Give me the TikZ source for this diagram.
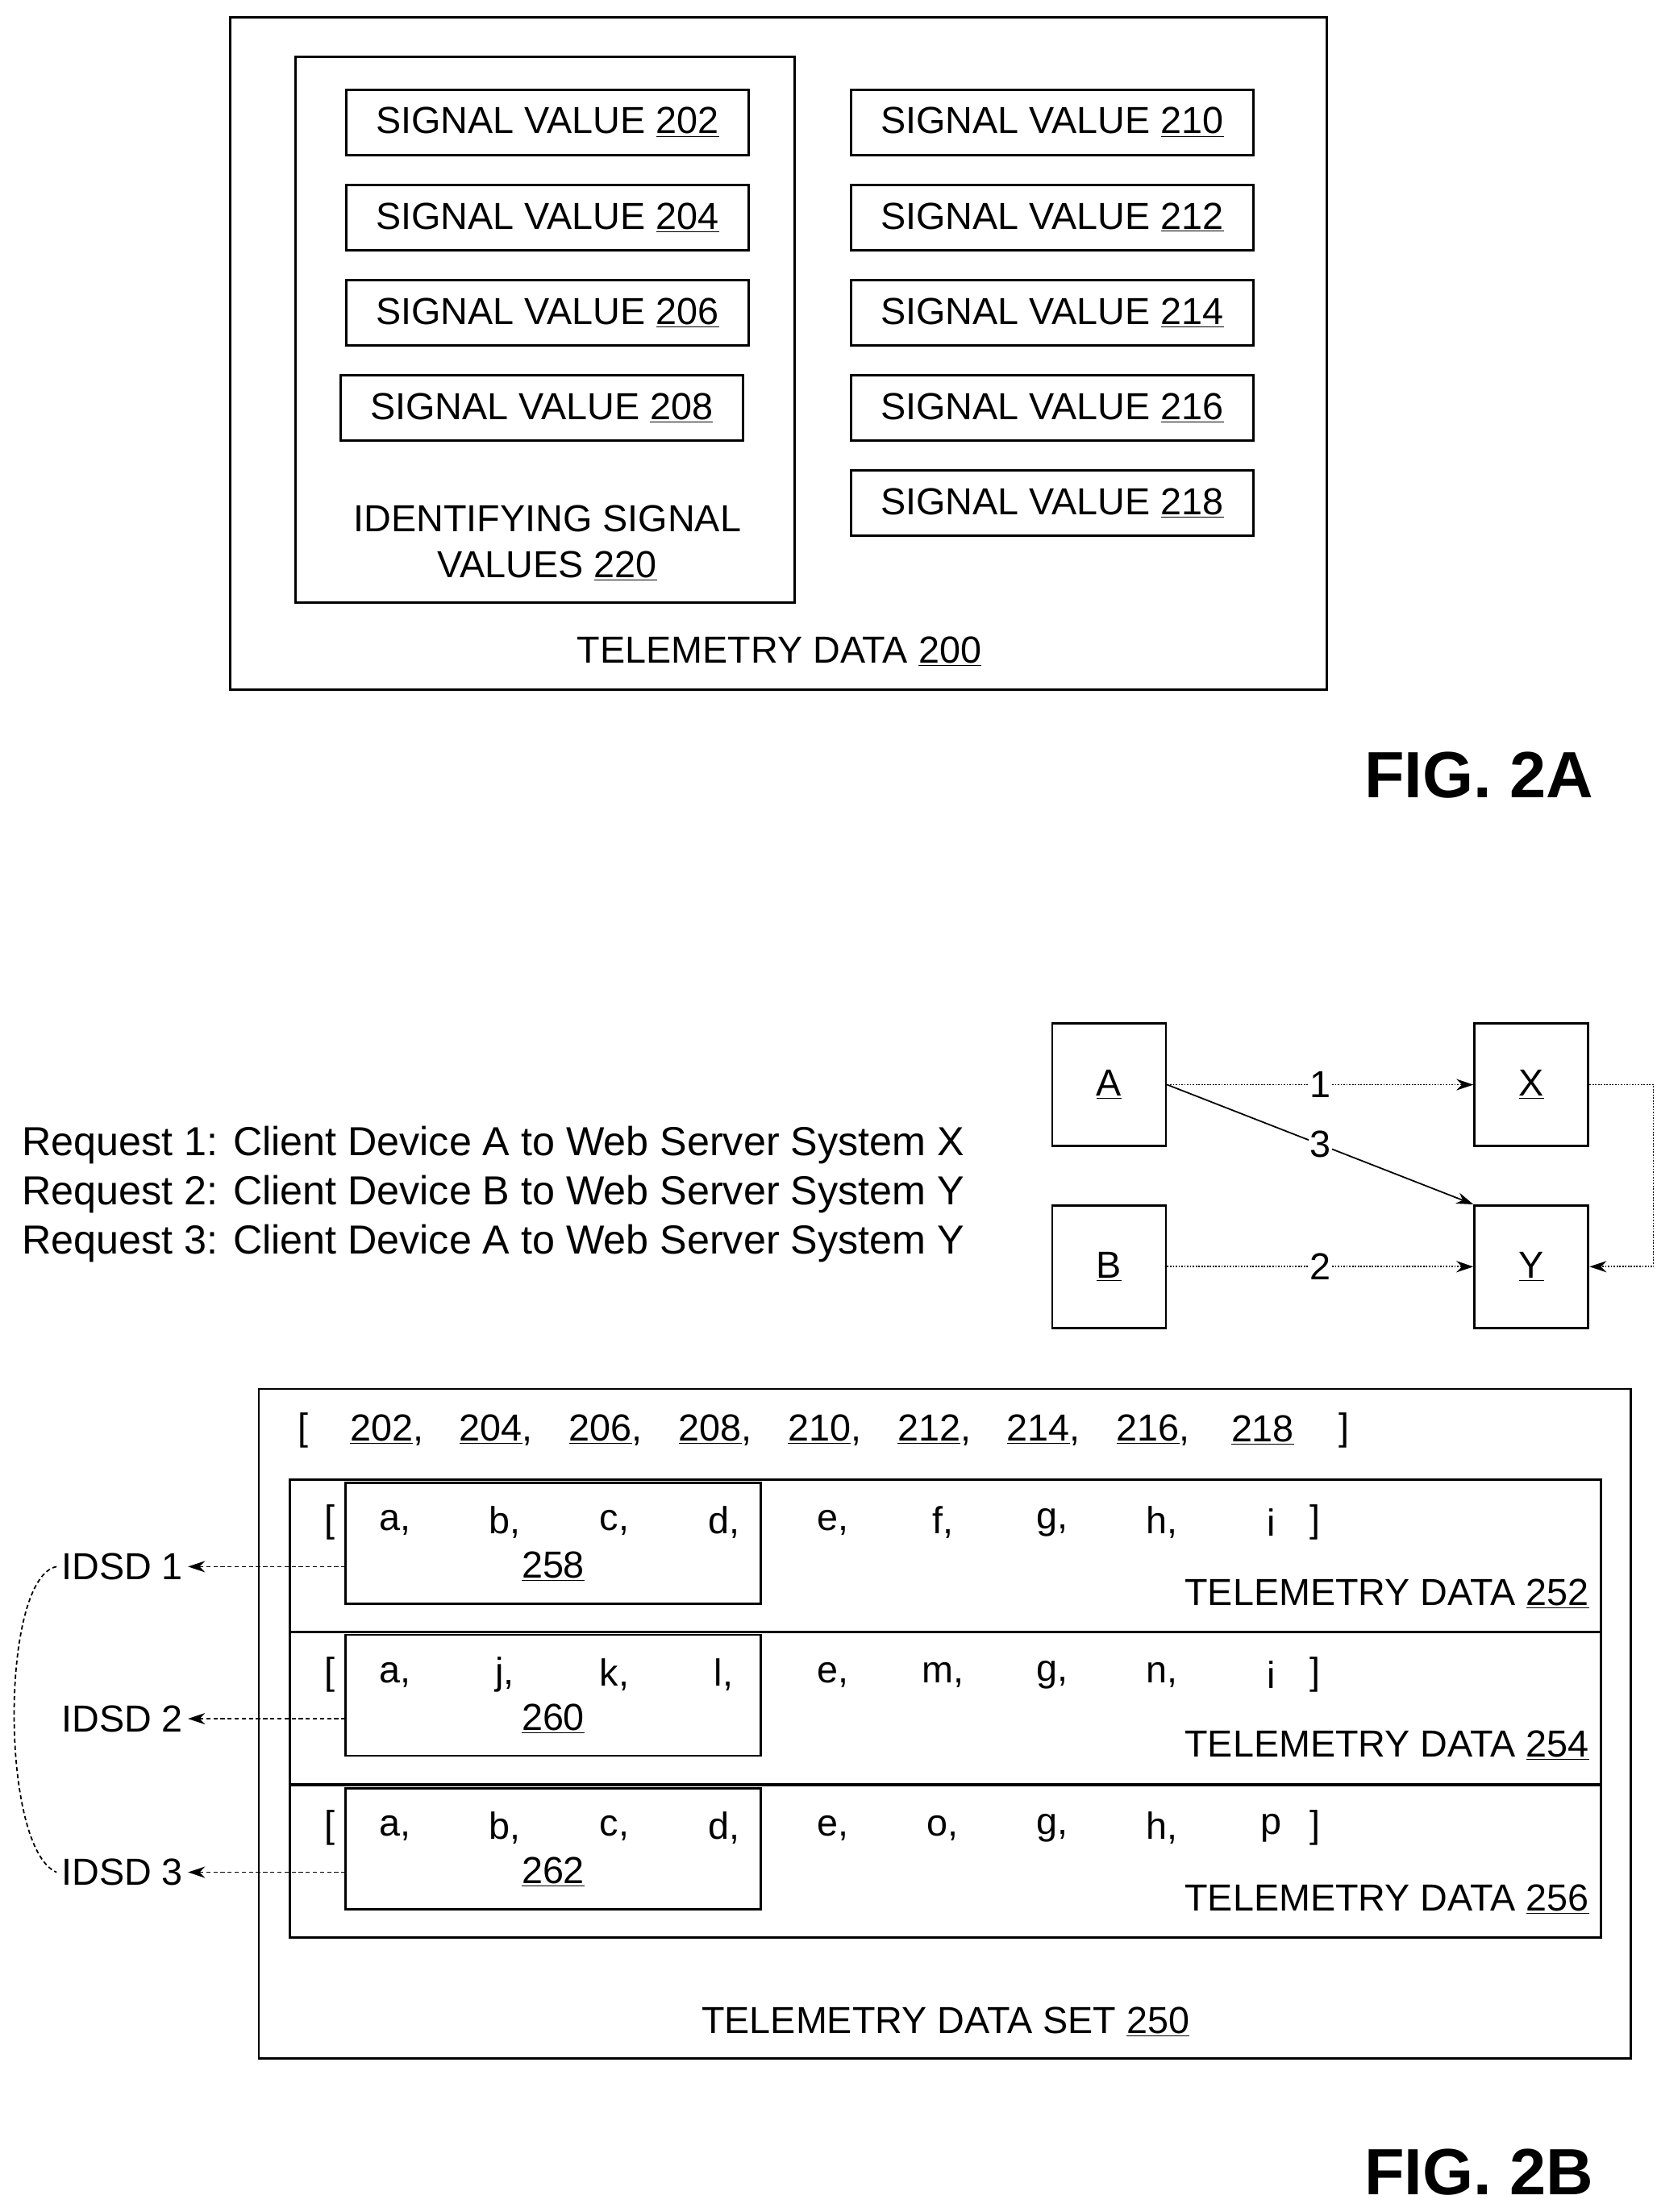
\documentclass[tikz,border=0pt]{standalone}
\usepackage{fontspec}
\setmainfont{Liberation Sans}
\usetikzlibrary{arrows.meta}
\tikzset{
  sig/.style={draw, line width=1.6pt, minimum width=283pt, minimum height=46pt, inner sep=0pt},
  nd/.style={draw, line width=1.6pt, minimum width=80pt, minimum height=86pt, inner sep=0pt},
  flow/.style={densely dotted, line width=1pt, -{Stealth[length=12pt,width=8pt]}},
  frame/.style={draw, line width=1.6pt}
}
\newcommand{\un}[1]{\underline{#1}}
\begin{document}
\begin{tikzpicture}[x=1pt, y=-1pt, font=\fontsize{26.5}{32}\selectfont]
\useasboundingbox (0,0) rectangle (1165,1556);
% FIG. 2A
\draw[frame] (162,12) rectangle (933,485);
\draw[frame] (208,40) rectangle (559,424);
\node (t200) at (548,458) {TELEMETRY DATA \un{200}};
\node[align=center] (t220) at (385,382) {IDENTIFYING SIGNAL\\VALUES \un{220}};
\node[sig] (s202) at (385,86) {SIGNAL VALUE \un{202}};
\node[sig] (s204) at (385,153) {SIGNAL VALUE \un{204}};
\node[sig] (s206) at (385,220) {SIGNAL VALUE \un{206}};
\node[sig] (s208) at (381,287) {SIGNAL VALUE \un{208}};
\foreach \n/\y in {210/86,212/153,214/220,216/287,218/354}
  \node[sig] (s\n) at (740,\y) {SIGNAL VALUE \un{\n}};
\node[font=\fontsize{46}{50}\selectfont\bfseries] (fa) at (1040,545) {FIG. 2A};
% FIG. 2B
\node[anchor=west, align=left, font=\fontsize{28.5}{34.5}\selectfont] (req) at (12,840)
  {Request 1: Client Device A to Web Server System X\\
   Request 2: Client Device B to Web Server System Y\\
   Request 3: Client Device A to Web Server System Y};
\node[nd] (A) at (780,763) {\un{A}};
\node[nd] (X) at (1077,763) {\un{X}};
\node[nd] (B) at (780,891) {\un{B}};
\node[nd] (Y) at (1077,891) {\un{Y}};
\draw[flow] (A.east) -- node[fill=white, inner sep=1pt] {1} (X.west);
\draw[flow] (B.east) -- node[fill=white, inner sep=1pt] {2} (Y.west);
\draw[line width=1pt, -{Stealth[length=12pt,width=8pt]}] (A.east) -- node[pos=0.5, fill=white, inner sep=1pt] {3} (Y.north west);
\draw[flow] (X.east) -- ++(45,0) |- (Y.east);
\draw[frame] (182,977) rectangle (1147,1448);
\node (t250) at (665,1422) {TELEMETRY DATA SET \un{250}};
\node (lb) at (213,1006) {[};
\node (rb) at (945,1006) {]};
\foreach \n [count=\i] in {202,204,206,208,210,212,214,216,218}
  \node at ({272+77*(\i-1)},1006) {\un{\n}\ifnum\i<9,\fi};
\foreach \r/\ya/\nm/\td in {1/1041/258/252, 2/1148/260/254, 3/1256/262/256}{
  \draw[frame] (204,\ya) rectangle (1126,\ya+107);
  \draw[frame] (243,\ya+2) rectangle (535,\ya+87);
  \node at (232,\ya+30) {[};
  \node at (925,\ya+30) {]};
  \node (n\nm) at (389,\ya+61) {\un{\nm}};
  \node[anchor=east] (td\td) at (1121,\ya+80) {TELEMETRY DATA \un{\td}};
  \coordinate (src\r) at (243,\ya+61);
  \node (idsd\r) at (86,\ya+61) {IDSD \r};
}
\foreach \c [count=\i] in {a,b,c,d,e,f,g,h,i} \node at ({278+77*(\i-1)},1071) {\c\ifnum\i<9,\fi};
\foreach \c [count=\i] in {a,j,k,l,e,m,g,n,i} \node at ({278+77*(\i-1)},1178) {\c\ifnum\i<9,\fi};
\foreach \c [count=\i] in {a,b,c,d,e,o,g,h,p} \node at ({278+77*(\i-1)},1286) {\c\ifnum\i<9,\fi};
\foreach \r in {1,2,3}
  \draw[densely dashed, line width=1pt, -{Stealth[length=12pt,width=8pt]}] (src\r) -- (idsd\r.east);
\draw[densely dashed, line width=1pt] (idsd1.west) .. controls (0,1110) and (0,1300) .. (idsd3.west);
\node[font=\fontsize{46}{50}\selectfont\bfseries] (fb) at (1040,1528) {FIG. 2B};
\end{tikzpicture}
\end{document}
